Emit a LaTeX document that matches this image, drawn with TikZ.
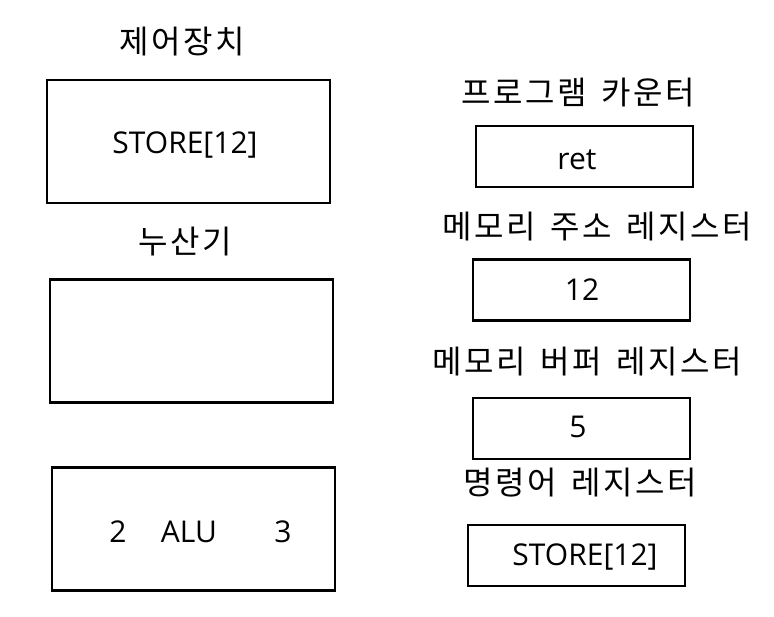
\documentclass[tikz,border=0pt]{standalone}
\usepackage{fontspec}
\setmainfont{Open Sans}
\newfontfamily\krfont[LetterSpace=8]{Noto Sans CJK KR}
\usepackage{tikz}
\newcommand{\wgap}{\hspace{0.45em}}

\begin{document}
\begin{tikzpicture}[
            x=1pt, y=-1pt,
            big_box/.style={draw=black, line width=2.6pt, minimum width=283pt, minimum height=123pt, inner sep=0pt},
            reg_box/.style={draw=black, line width=2.6pt, minimum width=217pt, minimum height=61pt, inner sep=0pt},
            title_node/.style={font=\krfont\fontsize{32}{34}\selectfont, inner sep=0pt},
            value_node/.style={font=\fontsize{30}{32}\selectfont, inner sep=0pt}
        ]

        % Page frame
        \useasboundingbox (0,0) rectangle (774,617);

        % Define coordinates for box centres
        \coordinate (C1) at (188.5, 141.5);
        \coordinate (C2) at (191.5, 341);
        \coordinate (C3) at (193.5, 529);

        \coordinate (R1) at (584.5, 156.5);
        \coordinate (R2) at (581.5, 290);
        \coordinate (R3) at (581.5, 428.5);
        \coordinate (R4) at (576.5, 555.5);

        % Left column: control unit, accumulator, ALU
        \node[title_node] (ctrl_title) at (182, 42) {제어장치};
        \node[big_box] (ctrl) at (C1) {};
        \node[value_node] (ctrl_val) at (185, 145) {STORE[12]};

        \node[title_node] (acc_title) at (185, 242) {누산기};
        \node[big_box] (acc) at (C2) {};

        \node[big_box] (alu) at (C3) {};
        \node[value_node] (alu_a) at (118, 532) {2};
        \node[value_node] (alu_name) at (189, 532) {ALU};
        \node[value_node] (alu_b) at (283, 532) {3};

        % Right column: registers
        \node[title_node] (pc_title) at (578, 93) {프로그램\wgap 카운터};
        \node[reg_box] (pc) at (R1) {};
        \node[value_node] (pc_val) at (577, 160) {ret};

        \node[title_node] (mar_title) at (597, 227) {메모리\wgap 주소\wgap 레지스터};
        \node[reg_box] (mar) at (R2) {};
        \node[value_node] (mar_val) at (582, 290) {12};

        \node[title_node] (mbr_title) at (587, 362) {메모리\wgap 버퍼\wgap 레지스터};
        \node[reg_box] (mbr) at (R3) {};
        \node[value_node] (mbr_val) at (578, 427) {5};

        \node[title_node] (ir_title) at (580, 483) {명령어\wgap 레지스터};
        \node[reg_box] (ir) at (R4) {};
        \node[value_node] (ir_val) at (585, 557) {STORE[12]};

    \end{tikzpicture}
\end{document}
